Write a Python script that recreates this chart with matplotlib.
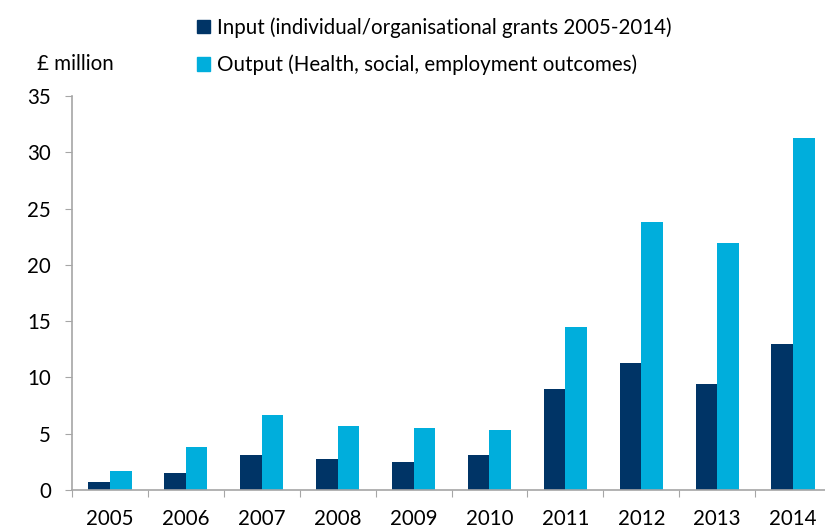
import matplotlib
matplotlib.use("Agg")
import matplotlib.pyplot as plt
from matplotlib.patches import Patch
import numpy as np

plt.rcParams['font.family'] = ['Lato', 'DejaVu Sans']

years = ['2005', '2006', '2007', '2008', '2009', '2010', '2011', '2012', '2013', '2014']
input_grants = [0.7, 1.55, 3.1, 2.75, 2.45, 3.1, 9.0, 11.25, 9.4, 13.0]
output_outcomes = [1.65, 3.85, 6.7, 5.7, 5.5, 5.35, 14.5, 23.8, 21.9, 31.3]

input_label = 'Input (individual/organisational grants 2005-2014)'
output_label = 'Output (Health, social, employment outcomes)'
navy = '#003466'
cyan = '#00AEDC'
axis_grey = '#A6A6A6'
fs = 14.8

fig = plt.figure(figsize=(8.25, 5.28), dpi=100)
ax = fig.add_axes([72 / 825, 1 - 490 / 528, (831 - 72) / 825, (490 - 96) / 528])

x = np.arange(len(years))
w = 0.284
ax.bar(x - w / 2, input_grants, w, color=navy)
ax.bar(x + w / 2, output_outcomes, w, color=cyan)

ax.set_xlim(-0.5, len(years) - 0.5)
ax.set_ylim(0, 35)
ax.set_yticks(range(0, 36, 5))

# ticks on category boundaries, labels in the middle
ax.set_xticks(np.arange(-0.5, len(years), 1.0))
ax.set_xticklabels([])
ax.set_xticks(x, minor=True)
ax.set_xticklabels(years, minor=True)
ax.tick_params(axis='x', which='minor', length=0, pad=14, labelsize=fs)
ax.tick_params(axis='x', which='major', length=5, color=axis_grey)
ax.tick_params(axis='y', length=5, color=axis_grey, pad=10, labelsize=fs)

for side in ['top', 'right']:
    ax.spines[side].set_visible(False)
for side in ['left', 'bottom']:
    ax.spines[side].set_color(axis_grey)
    ax.spines[side].set_linewidth(1.2)

fig.text(37 / 825, 1 - 64 / 528, '£ million', fontsize=fs, va='center', ha='left')

handles = [Patch(color=navy, label=input_label), Patch(color=cyan, label=output_label)]
fig.legend(handles=handles, loc='upper left', bbox_to_anchor=(197 / 825, 1 - 17 / 528),
           frameon=False, fontsize=fs, handlelength=0.65, handleheight=0.65,
           handletextpad=0.3, labelspacing=0.82, borderpad=0, borderaxespad=0)

fig.savefig('out.png', dpi=100)
